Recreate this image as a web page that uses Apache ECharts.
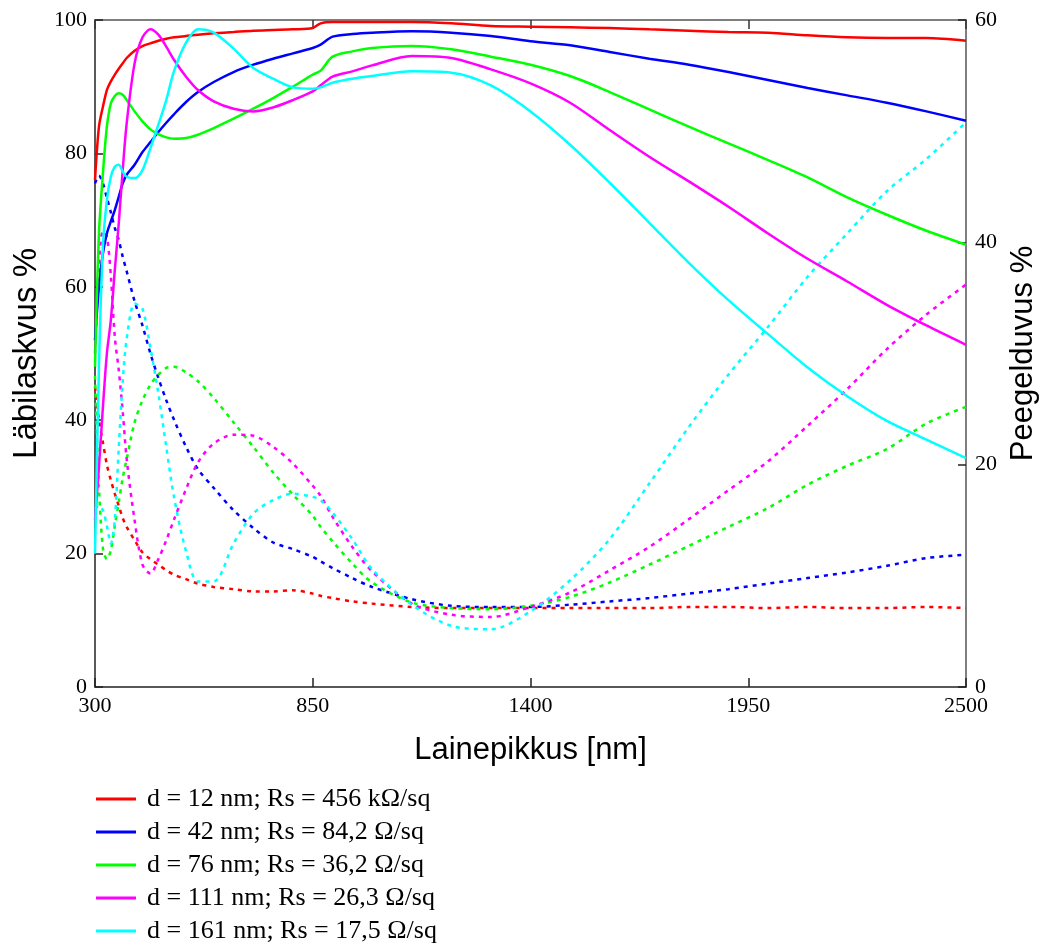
<!DOCTYPE html>
<html>
<head>
<meta charset="utf-8">
<script src="https://cdn.jsdelivr.net/npm/echarts@6/dist/echarts.min.js"></script>
<style>html,body{margin:0;padding:0;background:#fff;overflow:hidden}#c{width:1043px;height:945px}</style>
</head>
<body>
<div id="c"></div>
<script>
const wavelengths = [300,310,320,330,340,350,360,370,380,400,420,440,460,480,500,530,560,600,650,700,750,800,850,870,900,950,1000,1100,1200,1300,1400,1500,1600,1700,1800,1900,2000,2100,2200,2300,2400,2500];

const seriesNames = [
  'd = 12 nm; Rs = 456 k\u03A9/sq',
  'd = 42 nm; Rs = 84,2 \u03A9/sq',
  'd = 76 nm; Rs = 36,2 \u03A9/sq',
  'd = 111 nm; Rs = 26,3 \u03A9/sq',
  'd = 161 nm; Rs = 17,5 \u03A9/sq'
];
const colors = ['#ff0000','#0000ff','#00ff00','#ff00ff','#00ffff'];

// Transmittance (left axis, %)
const trans12  = [76,84,87,89.5,90.8,91.8,92.7,93.5,94.3,95.4,96.1,96.5,96.9,97.2,97.4,97.6,97.8,98,98.2,98.4,98.5,98.6,98.8,99.5,99.7,99.7,99.7,99.7,99.5,99.1,99,98.9,98.8,98.6,98.4,98.2,98.1,97.7,97.4,97.3,97.3,96.9];
const trans42  = [52,60,65,68,69.8,71.5,73.5,75.5,76.8,78.3,80.2,81.7,83.2,84.6,85.9,87.7,89.2,90.7,92.2,93.3,94.2,95,95.8,96.3,97.5,97.9,98.1,98.3,98.1,97.6,96.8,96.2,95.2,94.2,93.3,92.2,91,89.8,88.7,87.6,86.3,84.9];
const trans76  = [48,68,77,84,87.5,88.6,89,88.8,88,86.3,84.8,83.6,82.9,82.4,82.2,82.3,82.8,83.8,85.2,86.7,88.3,90,91.8,92.4,94.5,95.3,95.8,96.1,95.6,94.5,93.3,91.6,89.2,86.6,84,81.5,79,76.4,73.4,70.8,68.4,66.3];
const trans111 = [25,33,42,50,55,62.5,69.5,77.5,84.5,93.5,97.4,98.6,97.8,96,94,91.5,89.5,87.8,86.7,86.3,86.9,88,89.3,90.2,91.5,92.3,93.2,94.6,94.3,92.6,90.5,87.6,83.5,79.5,75.8,72,68,64.2,60.8,57.3,54.2,51.3];
const trans161 = [20,48,66,73,76.5,78,78.3,77.3,76.5,76.3,77.5,80.8,84.3,88,92.4,96.6,98.6,98.1,95.7,92.8,91.2,89.9,89.7,89.9,90.6,91.2,91.6,92.3,92.1,90.2,86.3,81.3,75.6,69.6,63.6,58,52.9,47.9,43.6,39.9,37.1,34.3];

// Reflectance (right axis, %)
const refl12  = [27,24,22,20,18.6,17.4,16.3,15.2,14.4,13.2,12.1,11.5,11,10.5,10.1,9.7,9.3,9,8.8,8.6,8.6,8.7,8.4,8.2,8,7.7,7.5,7.2,7.1,7.1,7.1,7.1,7.1,7.1,7.2,7.2,7.1,7.2,7.1,7.1,7.2,7.1];
const refl42  = [45.3,46,45.3,44,42.7,41.3,40.2,38.7,37.4,34.7,32.5,30,27.8,25.8,24,21.6,19.6,17.9,15.9,14.3,13,12.4,11.7,11.3,10.7,9.8,9,7.9,7.3,7.2,7.2,7.4,7.7,8,8.4,8.8,9.3,9.8,10.3,10.9,11.6,11.9];
const refl76  = [28,18,12.5,11.5,12.3,14.5,16.6,18.8,20.5,23.8,25.8,27.2,28.1,28.7,28.8,28.3,27.5,26,23.8,21.6,19.3,17.3,15.4,14.4,13.1,11.1,9.4,7.6,7.1,7,7.3,8.1,9.4,11,12.7,14.4,16.1,18.2,19.9,21.4,23.7,25.2];
const refl111 = [30,38,41,40.5,37,31.5,28.5,24.8,20.5,15,11,10.2,11.5,13.2,15.1,17.8,20.2,21.9,22.7,22.6,21.6,20.1,18.1,17.2,15.3,12.6,10.4,7.5,6.5,6.3,7.2,8.5,10.5,12.6,15.1,17.7,20.3,23.5,26.8,30.4,33.5,36.2];
const refl161 = [16,16.3,15.9,14.5,12.9,15,21.5,27.5,31.3,34.5,34,30.5,26.4,21.6,17,12.2,9.5,9.5,12.9,15.6,16.8,17.4,17.1,16.8,15.7,13.3,10.6,7.4,5.5,5.2,6.8,9.6,13.3,18.3,23.4,28.1,32.4,36.9,40.8,44.6,47.5,50.8];

const xTicks = [300,850,1400,1950,2500];
const leftTicks = [0,20,40,60,80,100];
const rightTicks = [0,20,40,60];

const transAll = [trans12,trans42,trans76,trans111,trans161];
const reflAll = [refl12,refl42,refl76,refl111,refl161];

const toPairs = arr => wavelengths.map((w,i)=>[w,arr[i]]);

const series = [];
transAll.forEach((arr,k)=>{
  series.push({
    name: seriesNames[k], type:'line', yAxisIndex:0, xAxisIndex:0,
    data: toPairs(arr), showSymbol:false, symbol:'none', smooth:0.3,
    lineStyle:{color:colors[k], width:2.5, type:'solid'}, itemStyle:{color:colors[k]},
    z: 3, animation:false
  });
});
reflAll.forEach((arr,k)=>{
  series.push({
    name: seriesNames[k] + ' R', type:'line', yAxisIndex:1, xAxisIndex:0,
    data: toPairs(arr), showSymbol:false, symbol:'none', smooth:0.3,
    lineStyle:{color:colors[k], width:2.5, type:[4,5]}, itemStyle:{color:colors[k]},
    z: 2, animation:false
  });
});

const serif = 'Liberation Serif';
const sans = 'Liberation Sans';
const axisLineStyle = {color:'#222', width:1.5};
const plain = v => String(v);

const chart = echarts.init(document.getElementById('c'), null, {renderer:'canvas'});
chart.setOption({
  backgroundColor:'#fff',
  animation:false,
  grid:{left:95, right:77, top:20, bottom:258, containLabel:false, outerBoundsMode:'none'},
  legend:{
    data: seriesNames,
    orient:'vertical', left:96, top:786, height:170, padding:0,
    icon:'rect', itemWidth:40, itemHeight:3, itemGap:7,
    textStyle:{fontFamily:serif, fontSize:26, color:'#000', padding:[0,0,0,6]},
    selectedMode:false
  },
  xAxis:[{
    type:'value', min:300, max:2500, interval:550,
    name:'Lainepikkus [nm]', nameLocation:'middle', nameGap:48,
    nameTextStyle:{fontFamily:sans, fontSize:31, color:'#000'},
    axisLine:{show:true, onZero:false, lineStyle:axisLineStyle},
    axisTick:{show:true, inside:true, length:9, lineStyle:{color:'#222', width:1.5}},
    axisLabel:{fontFamily:serif, fontSize:22, color:'#000', margin:8, formatter:plain},
    splitLine:{show:false}
  },{
    type:'value', min:300, max:2500, interval:550, position:'top',
    axisLine:{show:true, onZero:false, lineStyle:{color:'#555', width:1.5}},
    axisTick:{show:true, inside:true, length:9, lineStyle:{color:'#333', width:1.5}},
    axisLabel:{show:false}, splitLine:{show:false}
  }],
  yAxis:[{
    type:'value', min:0, max:100, interval:20, position:'left',
    name:'Läbilaskvus %', nameLocation:'middle', nameGap:46, nameRotate:90,
    nameTextStyle:{fontFamily:sans, fontSize:33, color:'#000'},
    axisLine:{show:true, onZero:false, lineStyle:axisLineStyle},
    axisTick:{show:true, inside:true, length:8, lineStyle:{color:'#222', width:1.5}},
    axisLabel:{fontFamily:serif, fontSize:22, color:'#000', margin:8, formatter:plain},
    splitLine:{show:false}
  },{
    type:'value', min:0, max:60, interval:20, position:'right',
    name:'Peegelduvus %', nameLocation:'middle', nameGap:41, nameRotate:90,
    nameTextStyle:{fontFamily:sans, fontSize:31, color:'#000'},
    axisLine:{show:true, onZero:false, lineStyle:{color:'#555', width:1.5}},
    axisTick:{show:true, inside:true, length:8, lineStyle:{color:'#222', width:1.5}},
    axisLabel:{fontFamily:serif, fontSize:22, color:'#000', margin:9, formatter:plain},
    splitLine:{show:false}
  }],
  series: series
});
</script>
</body>
</html>
